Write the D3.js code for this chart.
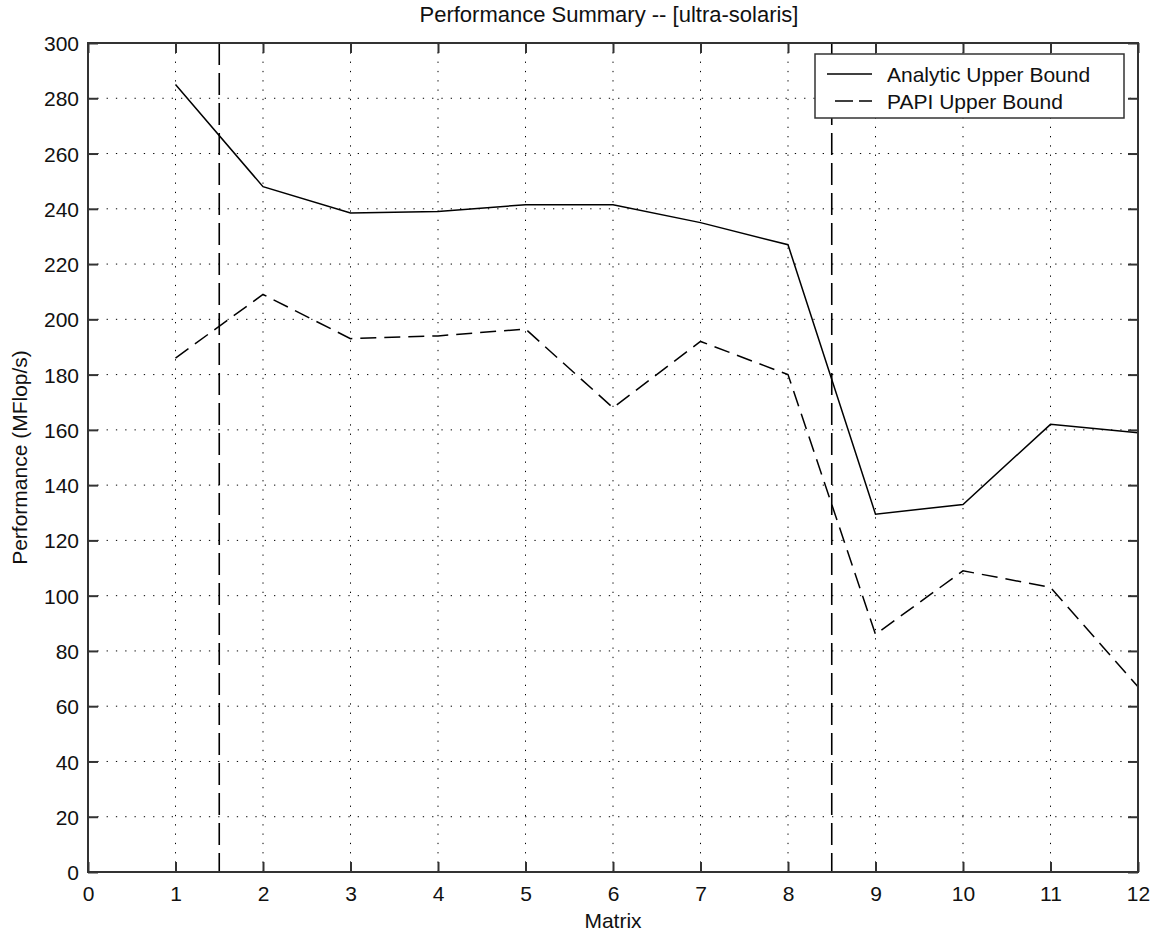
<!DOCTYPE html>
<html>
<head>
<meta charset="utf-8">
<script src="https://cdn.jsdelivr.net/npm/d3@7"></script>
<style>
  html, body { margin: 0; padding: 0; background: #fff; }
  svg { display: block; font-family: "Liberation Sans", Arial, sans-serif; }
</style>
</head>
<body>
<svg id="chart" width="1156" height="933"></svg>
<script>
// ---- data ----
const matrices = [1, 2, 3, 4, 5, 6, 7, 8, 9, 10, 11, 12];
const analyticUpper = [285, 248, 238.5, 239, 241.5, 241.5, 235, 227, 129.5, 133, 162, 159];
const papiUpper = [186, 209, 193, 194, 196.5, 168, 192, 180, 86, 109, 103, 67];
const separators = [1.5, 8.5];
const xTicks = [0, 1, 2, 3, 4, 5, 6, 7, 8, 9, 10, 11, 12];
const yTicks = [0, 20, 40, 60, 80, 100, 120, 140, 160, 180, 200, 220, 240, 260, 280, 300];
const seriesNames = ["Analytic Upper Bound", "PAPI Upper Bound"];
const titleText = "Performance Summary -- [ultra-solaris]";
const xLabel = "Matrix";
const yLabel = "Performance (MFlop/s)";

// ---- layout ----
const W = 1156, H = 933;
const L = 88, R = 1138, T = 43, B = 872;
const svg = d3.select("#chart");
const x = d3.scaleLinear().domain([0, 12]).range([L, R]);
const y = d3.scaleLinear().domain([0, 300]).range([B, T]);
const FS = 21;
const axisColor = "#333";
const dash = "16,8";

// grid
const grid = svg.append("g");
grid.selectAll("line.gx").data(xTicks.filter(d => d > 0 && d < 12)).join("line")
  .attr("x1", d => x(d)).attr("x2", d => x(d)).attr("y1", T).attr("y2", B)
  .attr("stroke", "#000").attr("stroke-width", 1).attr("stroke-dasharray", "1.3,8");
grid.selectAll("line.gy").data(yTicks.filter(d => d > 0 && d < 300)).join("line")
  .attr("y1", d => y(d)).attr("y2", d => y(d)).attr("x1", L).attr("x2", R)
  .attr("stroke", "#000").attr("stroke-width", 1).attr("stroke-dasharray", "1.3,8");

// separators
svg.selectAll("line.sep").data(separators).join("line")
  .attr("x1", d => x(d)).attr("x2", d => x(d)).attr("y1", y(300)).attr("y2", y(0))
  .attr("stroke", "#000").attr("stroke-width", 1.6).attr("stroke-dasharray", "22,8");

// lines
const lineGen = vals => d3.line().x((d, i) => x(matrices[i])).y(d => y(d))(vals);
svg.append("path").attr("d", lineGen(analyticUpper))
  .attr("fill", "none").attr("stroke", "#000").attr("stroke-width", 1.5);
svg.append("path").attr("d", lineGen(papiUpper))
  .attr("fill", "none").attr("stroke", "#000").attr("stroke-width", 1.5)
  .attr("stroke-dasharray", dash);

// axes box
svg.append("rect").attr("x", L).attr("y", T).attr("width", R - L).attr("height", B - T)
  .attr("fill", "none").attr("stroke", axisColor).attr("stroke-width", 2);

// axes using d3 axis with inner ticks
const tickLen = 10;
const xb = svg.append("g").attr("transform", `translate(0,${B})`)
  .call(d3.axisBottom(x).tickValues(xTicks).tickSizeInner(-tickLen).tickSizeOuter(0).tickPadding(15).tickFormat(d3.format("d")));
const xt = svg.append("g").attr("transform", `translate(0,${T})`)
  .call(d3.axisTop(x).tickValues(xTicks).tickSizeInner(-tickLen).tickSizeOuter(0).tickFormat(""));
const yl = svg.append("g").attr("transform", `translate(${L},0)`)
  .call(d3.axisLeft(y).tickValues(yTicks).tickSizeInner(-tickLen).tickSizeOuter(0).tickPadding(18).tickFormat(d3.format("d")));
const yr = svg.append("g").attr("transform", `translate(${R},0)`)
  .call(d3.axisRight(y).tickValues(yTicks).tickSizeInner(-tickLen).tickSizeOuter(0).tickFormat(""));
[xb, xt, yl, yr].forEach(g => {
  g.select(".domain").remove();
  g.selectAll(".tick line").attr("stroke", axisColor).attr("stroke-width", 2);
  g.selectAll(".tick text").attr("fill", "#111").style("font-size", FS + "px")
    .style("font-family", '"Liberation Sans", Arial, sans-serif');
});
xb.selectAll(".tick text").attr("dy", null).attr("y", 29);
yl.selectAll(".tick text").attr("x", -9).attr("dy", "0.36em");

// title & labels
svg.append("text").attr("x", (L + R) / 2 - 4).attr("y", 22).attr("text-anchor", "middle")
  .style("font-size", "22px").attr("fill", "#111").text(titleText);
svg.append("text").attr("x", (L + R) / 2).attr("y", 928).attr("text-anchor", "middle")
  .style("font-size", FS + "px").attr("fill", "#111").text(xLabel);
svg.append("text").attr("transform", `translate(27,${(T + B) / 2}) rotate(-90)`)
  .attr("text-anchor", "middle").style("font-size", FS + "px").attr("fill", "#111").text(yLabel);

// legend
const lg = svg.append("g");
lg.append("rect").attr("x", 815).attr("y", 54).attr("width", 1124 - 815).attr("height", 118 - 54)
  .attr("fill", "#fff").attr("stroke", axisColor).attr("stroke-width", 1.5);
const rows = [{name: seriesNames[0], dash: null, yy: 74}, {name: seriesNames[1], dash: "18,6", yy: 101}];
rows.forEach(r => {
  lg.append("line").attr("x1", r.dash ? 835 : 827).attr("x2", 872).attr("y1", r.yy).attr("y2", r.yy)
    .attr("stroke", "#000").attr("stroke-width", 1.5).attr("stroke-dasharray", r.dash);
  lg.append("text").attr("x", 887).attr("y", r.yy).attr("dy", "0.36em")
    .style("font-size", "21px").attr("fill", "#111").text(r.name);
});
</script>
</body>
</html>
